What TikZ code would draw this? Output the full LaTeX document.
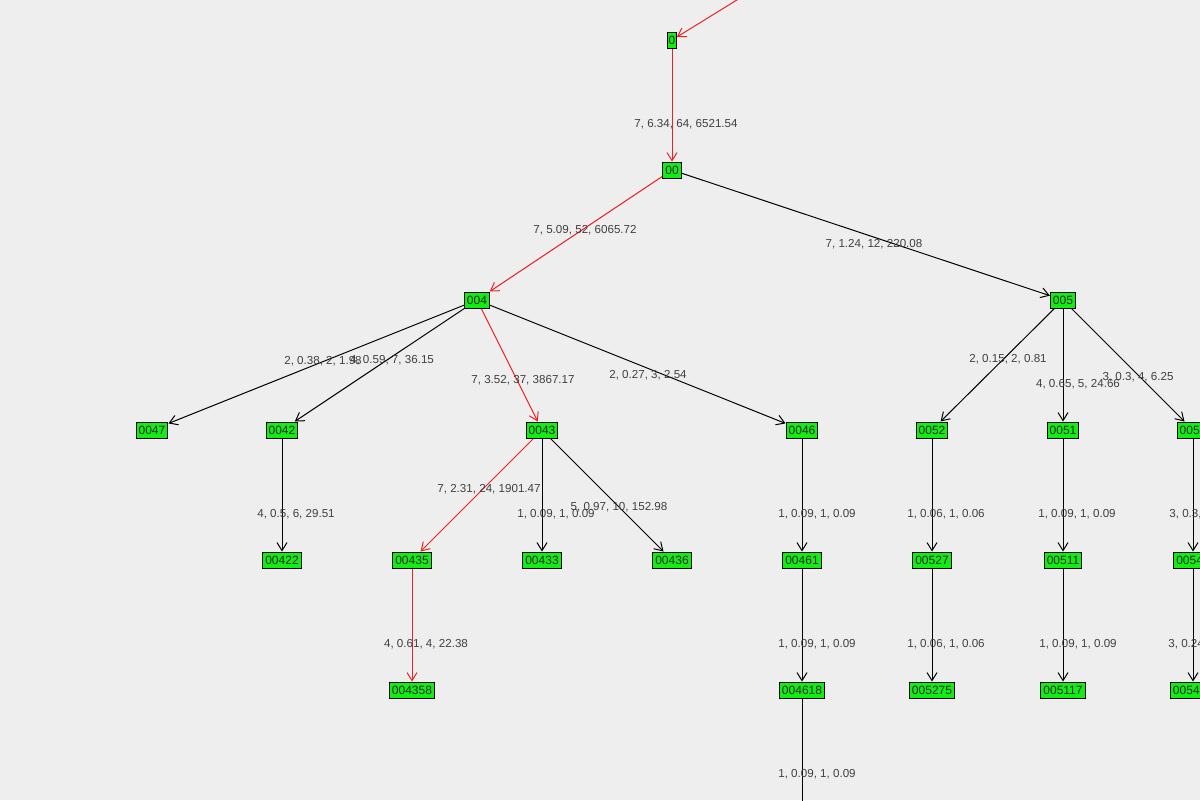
\documentclass[tikz,border=0pt]{standalone}
\usepackage{fontspec}
\setmainfont{Liberation Sans}
\usetikzlibrary{arrows.meta}
\definecolor{bg}{HTML}{EEEEEE}
\definecolor{nd}{HTML}{11EE11}
\definecolor{hot}{HTML}{EE2222}
\begin{document}
\begin{tikzpicture}[x=0.5pt,y=-0.5pt,
  box/.style={draw=black,fill=nd,line width=0.5pt,inner xsep=1.3pt,inner ysep=0.5pt,minimum height=8pt,font=\fontsize{6}{6}\selectfont,text=black!85},
  lab/.style={font=\fontsize{5.8}{6}\selectfont,text=black!75,inner sep=0pt},
  ed/.style={draw=black,line width=0.5pt,-{Straight Barb[length=4pt,width=5pt]}},
  hed/.style={ed,draw=hot}]
\fill[bg] (0,0) rectangle (1200,800);
\useasboundingbox (0,0) rectangle (1200,800);
\clip (0,0) rectangle (1200,800);
\coordinate (src) at (745,-5);
\coordinate (sink) at (802,810);
\node[box,minimum width=4pt,inner xsep=0.5pt] (n0) at (672,40) {0};
\node[box] (n00) at (672,170) {00};
\node[box] (n004) at (477,300) {004};
\node[box] (n005) at (1063,300) {005};
\node[box] (n0047) at (152,430) {0047};
\node[box] (n0042) at (282,430) {0042};
\node[box] (n0043) at (542,430) {0043};
\node[box] (n0046) at (802,430) {0046};
\node[box] (n0052) at (932,430) {0052};
\node[box] (n0051) at (1063,430) {0051};
\node[box] (n0054) at (1193,430) {0054};
\node[box] (n00422) at (282,560) {00422};
\node[box] (n00435) at (412,560) {00435};
\node[box] (n00433) at (542,560) {00433};
\node[box] (n00436) at (672,560) {00436};
\node[box] (n00461) at (802,560) {00461};
\node[box] (n00527) at (932,560) {00527};
\node[box] (n00511) at (1063,560) {00511};
\node[box] (n00541) at (1193,560) {00541};
\node[box] (n004358) at (412,690) {004358};
\node[box] (n004618) at (802,690) {004618};
\node[box] (n005275) at (932,690) {005275};
\node[box] (n005117) at (1063,690) {005117};
\node[box] (n005412) at (1193,690) {005412};
\draw[hed] (src) -- (n0);
\draw[hed] (n0) -- (n00);
\draw[hed] (n00) -- (n004);
\draw[ed] (n00) -- (n005);
\draw[ed] (n004) -- (n0047);
\draw[ed] (n004) -- (n0042);
\draw[hed] (n004) -- (n0043);
\draw[ed] (n004) -- (n0046);
\draw[ed] (n005) -- (n0052);
\draw[ed] (n005) -- (n0051);
\draw[ed] (n005) -- (n0054);
\draw[ed] (n0042) -- (n00422);
\draw[hed] (n0043) -- (n00435);
\draw[ed] (n0043) -- (n00433);
\draw[ed] (n0043) -- (n00436);
\draw[ed] (n0046) -- (n00461);
\draw[ed] (n0052) -- (n00527);
\draw[ed] (n0051) -- (n00511);
\draw[ed] (n0054) -- (n00541);
\draw[hed] (n00435) -- (n004358);
\draw[ed] (n00461) -- (n004618);
\draw[ed] (n00527) -- (n005275);
\draw[ed] (n00511) -- (n005117);
\draw[ed] (n00541) -- (n005412);
\draw[ed,-] (n004618) -- (sink);
\node[lab] at (686,124) {7, 6.34, 64, 6521.54};
\node[lab] at (585,230) {7, 5.09, 52, 6065.72};
\node[lab] at (874,244) {7, 1.24, 12, 220.08};
\node[lab] at (323,361) {2, 0.38, 2, 1.98};
\node[lab] at (392,360) {4, 0.59, 7, 36.15};
\node[lab] at (523,380) {7, 3.52, 37, 3867.17};
\node[lab] at (648,375) {2, 0.27, 3, 2.54};
\node[lab] at (296,514) {4, 0.5, 6, 29.51};
\node[lab] at (489,489) {7, 2.31, 24, 1901.47};
\node[lab] at (556,514) {1, 0.09, 1, 0.09};
\node[lab] at (619,507) {5, 0.97, 10, 152.98};
\node[lab] at (817,514) {1, 0.09, 1, 0.09};
\node[lab] at (426,644) {4, 0.61, 4, 22.38};
\node[lab] at (817,644) {1, 0.09, 1, 0.09};
\node[lab] at (1008,359) {2, 0.15, 2, 0.81};
\node[lab] at (1078,384) {4, 0.65, 5, 24.66};
\node[lab] at (1138,377) {3, 0.3, 4, 6.25};
\node[lab] at (946,514) {1, 0.06, 1, 0.06};
\node[lab] at (946,644) {1, 0.06, 1, 0.06};
\node[lab] at (1077,514) {1, 0.09, 1, 0.09};
\node[lab] at (1078,644) {1, 0.09, 1, 0.09};
\node[lab,anchor=west] at (1169,514) {3, 0.3, 4, 6.25};
\node[lab,anchor=west] at (1168,644) {3, 0.24, 3, 4.13};
\node[lab] at (817,774) {1, 0.09, 1, 0.09};
\end{tikzpicture}
\end{document}
